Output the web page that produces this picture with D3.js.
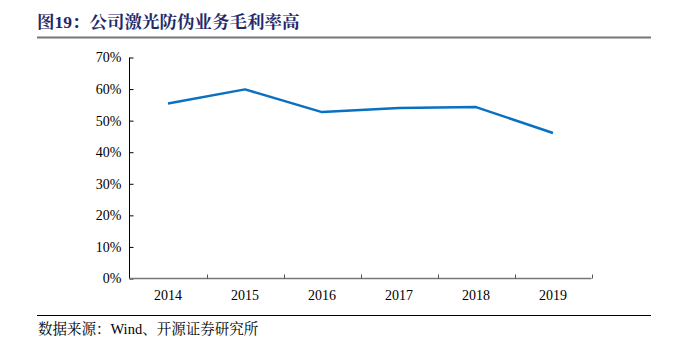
<!DOCTYPE html>
<html><head><meta charset="utf-8">
<script src="https://cdn.jsdelivr.net/npm/d3@7"></script>
<style>body{margin:0;background:#fff;} svg{display:block;}</style>
</head><body>
<script>
const categories = ["2014","2015","2016","2017","2018","2019"];
const margin = [55.4, 59.9, 52.7, 54.0, 54.3, 46.1];
const yTicks = [0,10,20,30,40,50,60,70];
const title = "图19：公司激光防伪业务毛利率高";
const source = "数据来源：Wind、开源证券研究所";

const W = 673, H = 343;
const svg = d3.select("body").append("svg").attr("width", W).attr("height", H);
const serif = "'Liberation Serif','Times New Roman',serif";

svg.append("text").attr("x", 37).attr("y", 28)
  .attr("font-family", serif + ",'Noto Serif CJK SC','Noto Sans CJK SC'")
  .attr("font-weight", "bold").attr("font-size", 17.5).attr("fill", "#1f2a6b")
  .text(title);
svg.append("line").attr("x1", 37).attr("x2", 651).attr("y1", 37.5).attr("y2", 37.5)
  .attr("stroke", "#777").attr("stroke-width", 2);

const x = d3.scaleBand().domain(categories).range([129.5, 591.5]);
const y = d3.scaleLinear().domain([0, 70]).range([278.5, 57.5]);

const yAxis = d3.axisLeft(y).tickValues(yTicks).tickSize(-4).tickPadding(8)
  .tickFormat(d => d + "%");
const gy = svg.append("g").attr("transform", "translate(129.5,0)").call(yAxis);
gy.attr("font-family", serif).attr("font-size", 14);
gy.select(".domain").attr("stroke", "#000").attr("d", "M0,57.5V278.5");
gy.selectAll(".tick line").attr("stroke", "#000");
gy.selectAll("text").attr("fill", "#000");

const gx = svg.append("g").attr("transform", "translate(0,278.5)")
  .call(d3.axisBottom(x).tickSize(0).tickPadding(12));
gx.attr("font-family", serif).attr("font-size", 14);
gx.select(".domain").remove();
gx.append("line").attr("x1", 129.5).attr("x2", 591.5).attr("stroke", "#777").attr("stroke-width", 1.5);
const bounds = categories.map(c => x(c) + x.bandwidth());
gx.selectAll(".sep").data(bounds).enter().append("line")
  .attr("x1", d => Math.round(d) + 0.5).attr("x2", d => Math.round(d) + 0.5)
  .attr("y1", 0).attr("y2", -4).attr("stroke", "#555");
gx.selectAll("text").attr("fill", "#000");

const line = d3.line().x((d, i) => x(categories[i]) + x.bandwidth() / 2).y(d => y(d));
svg.append("path").datum(margin).attr("d", line).attr("fill", "none")
  .attr("stroke", "#0a70c0").attr("stroke-width", 2.5).attr("stroke-linejoin", "round");

svg.append("line").attr("x1", 37).attr("x2", 651).attr("y1", 315.5).attr("y2", 315.5)
  .attr("stroke", "#000").attr("stroke-width", 1);
svg.append("text").attr("x", 38).attr("y", 334)
  .attr("font-family", serif + ",'Noto Serif CJK SC','Noto Sans CJK SC'")
  .attr("font-size", 14.5).attr("fill", "#000").text(source);
</script>
</body></html>
